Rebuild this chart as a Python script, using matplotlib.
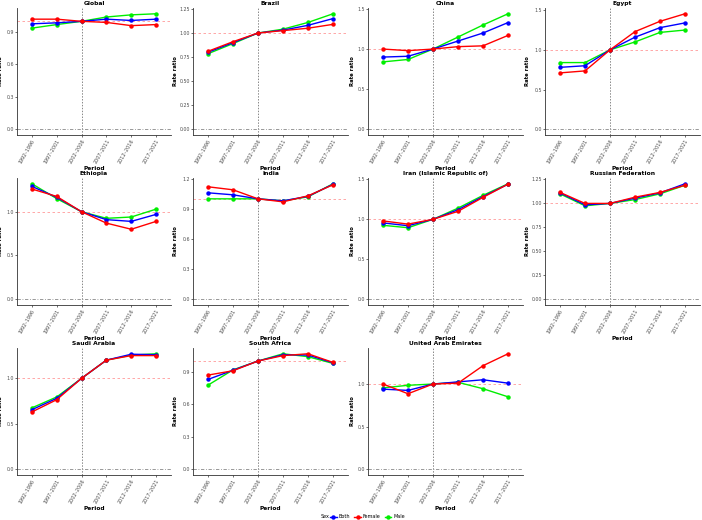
import matplotlib
matplotlib.use("Agg")
import matplotlib.pyplot as plt
from matplotlib.lines import Line2D

periods = ["1992\u20131996", "1997\u20132001", "2002\u20132006", "2007\u20132011", "2012\u20132016", "2017\u20132021"]
sexes = ["Both", "Female", "Male"]
colors = {"Both": "#0000FF", "Female": "#FF0000", "Male": "#00EE00"}

countries = ["Global", "Brazil", "China", "Egypt", "Ethiopia", "India",
             "Iran (Islamic Republic of)", "Russian Federation", "Saudi Arabia",
             "South Africa", "United Arab Emirates"]

both = {
    "Global": [0.977, 0.986, 1.0, 1.02, 1.008, 1.02],
    "Brazil": [0.80, 0.90, 1.0, 1.03, 1.08, 1.15],
    "China": [0.90, 0.91, 1.0, 1.10, 1.20, 1.33],
    "Egypt": [0.78, 0.80, 1.0, 1.16, 1.28, 1.34],
    "Ethiopia": [1.29, 1.165, 1.0, 0.91, 0.89, 0.97],
    "India": [1.06, 1.04, 1.0, 0.98, 1.025, 1.145],
    "Iran (Islamic Republic of)": [0.955, 0.92, 1.0, 1.12, 1.285, 1.44],
    "Russian Federation": [1.11, 0.985, 1.0, 1.055, 1.11, 1.205],
    "Saudi Arabia": [0.655, 0.78, 1.0, 1.20, 1.265, 1.26],
    "South Africa": [0.83, 0.915, 1.0, 1.058, 1.055, 0.984],
    "United Arab Emirates": [0.94, 0.925, 1.0, 1.025, 1.05, 1.01],
}
female = {
    "Global": [1.02, 1.02, 1.0, 0.99, 0.96, 0.97],
    "Brazil": [0.81, 0.91, 1.0, 1.025, 1.05, 1.09],
    "China": [1.0, 0.98, 1.0, 1.03, 1.04, 1.17],
    "Egypt": [0.71, 0.735, 1.0, 1.23, 1.36, 1.455],
    "Ethiopia": [1.26, 1.175, 1.0, 0.87, 0.80, 0.89],
    "India": [1.12, 1.09, 1.0, 0.97, 1.03, 1.14],
    "Iran (Islamic Republic of)": [0.98, 0.94, 1.0, 1.10, 1.275, 1.44],
    "Russian Federation": [1.115, 1.0, 1.0, 1.065, 1.115, 1.19],
    "Saudi Arabia": [0.63, 0.765, 1.0, 1.20, 1.25, 1.25],
    "South Africa": [0.87, 0.91, 1.0, 1.05, 1.067, 0.987],
    "United Arab Emirates": [1.0, 0.886, 1.0, 1.01, 1.215, 1.355],
}
male = {
    "Global": [0.937, 0.97, 1.0, 1.04, 1.06, 1.07],
    "Brazil": [0.785, 0.89, 1.0, 1.04, 1.11, 1.20],
    "China": [0.84, 0.87, 1.0, 1.15, 1.30, 1.44],
    "Egypt": [0.84, 0.84, 1.0, 1.10, 1.22, 1.25],
    "Ethiopia": [1.32, 1.15, 1.0, 0.925, 0.94, 1.03],
    "India": [1.0, 1.0, 1.0, 0.98, 1.02, 1.15],
    "Iran (Islamic Republic of)": [0.925, 0.895, 1.0, 1.14, 1.30, 1.445],
    "Russian Federation": [1.10, 0.975, 1.0, 1.04, 1.10, 1.19],
    "Saudi Arabia": [0.675, 0.795, 1.0, 1.20, 1.255, 1.27],
    "South Africa": [0.777, 0.918, 1.0, 1.067, 1.04, 0.978],
    "United Arab Emirates": [0.955, 0.985, 1.0, 1.02, 0.945, 0.85],
}
yticks = {
    "Global": [0.0, 0.3, 0.6, 0.9],
    "Brazil": [0.0, 0.25, 0.5, 0.75, 1.0, 1.25],
    "China": [0.0, 0.5, 1.0, 1.5],
    "Egypt": [0.0, 0.5, 1.0, 1.5],
    "Ethiopia": [0.0, 0.5, 1.0],
    "India": [0.0, 0.3, 0.6, 0.9, 1.2],
    "Iran (Islamic Republic of)": [0.0, 0.5, 1.0, 1.5],
    "Russian Federation": [0.0, 0.25, 0.5, 0.75, 1.0, 1.25],
    "Saudi Arabia": [0.0, 0.5, 1.0],
    "South Africa": [0.0, 0.3, 0.6, 0.9],
    "United Arab Emirates": [0.0, 0.5, 1.0],
}
series = {"Both": both, "Female": female, "Male": male}

W, H = 702, 520
fig = plt.figure(figsize=(W / 100, H / 100), dpi=100)
fig.patch.set_facecolor("white")

cols = [(17, 171), (193, 348), (368, 523), (545, 700)]
rows = [(8, 135), (178, 305), (348, 475)]
ylab_off = [13.5, 15, 13, 15]

x = list(range(1, len(periods) + 1))
for i, c in enumerate(countries):
    r, k = divmod(i, 4)
    x0, x1 = cols[k]
    y0, y1 = rows[r]
    ax = fig.add_axes([x0 / W, 1 - y1 / H, (x1 - x0) / W, (y1 - y0) / H])
    allv = both[c] + female[c] + male[c] + [0.0]
    lo, hi = min(allv), max(allv)
    span = hi - lo
    ax.set_ylim(lo - 0.05 * span, hi + 0.05 * span)
    ax.set_xlim(0.4, len(periods) + 0.6)
    ax.axhline(1.0, color="#FF9999", lw=0.6, ls=(0, (3, 3)), zorder=1)
    ax.axhline(0.0, color="#888888", lw=0.6, ls=(0, (4, 2, 1, 2)), zorder=1)
    ax.axvline(3, color="#888888", lw=0.7, ls=(0, (1.5, 1.5)), zorder=1)
    for s, zo in (("Male", 3), ("Both", 4), ("Female", 5)):
        ax.plot(x, series[s][c], color=colors[s], lw=1.0, marker="o", ms=2.2,
                zorder=zo, solid_joinstyle="round")
    ax.set_xticks(x)
    ax.set_xticklabels(periods, rotation=60, ha="right", rotation_mode="anchor",
                       fontsize=3.5, color="#4d4d4d")
    ax.set_yticks(yticks[c])
    ax.set_yticklabels([("%.2f" if c in ("Brazil", "Russian Federation") else "%.1f") % v
                        for v in yticks[c]], fontsize=3.4, color="#4d4d4d")
    ax.tick_params(length=1.5, width=0.5, pad=0.8, colors="#333333", labelcolor="#4d4d4d")
    for sp in ("top", "right"):
        ax.spines[sp].set_visible(False)
    for sp in ("left", "bottom"):
        ax.spines[sp].set_linewidth(0.6)
        ax.spines[sp].set_color("#333333")
    ax.set_title(c, fontsize=4.3, fontweight="bold", pad=2)
    ax.set_xlabel("Period", fontsize=4.2, fontweight="bold", labelpad=1)
    ax.set_ylabel("Rate ratio", fontsize=3.8, fontweight="bold")
    ax.yaxis.set_label_coords(-ylab_off[k] / (x1 - x0), 0.5)

handles = [Line2D([], [], color=colors[s], lw=1.0, marker="o", ms=2.2) for s in sexes]
fig.legend(handles, sexes, loc="center left", bbox_to_anchor=(330 / W, 1 - 517 / H), ncol=3,
           frameon=False, fontsize=3.5, handlelength=1.4, handletextpad=0.4,
           columnspacing=0.8, borderpad=0, borderaxespad=0)
fig.text(321 / W, 1 - 517 / H, "Sex", fontsize=3.5, va="center", ha="left")

fig.savefig("out.png", dpi=100)
